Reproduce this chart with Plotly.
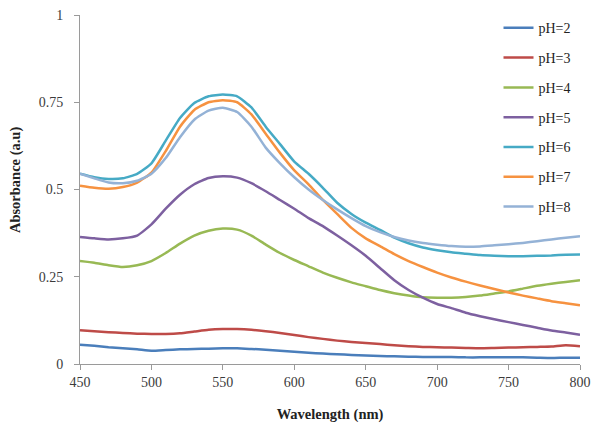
import plotly.graph_objects as go

wavelength = list(range(450, 801, 10))

ph2 = [.055, .052, .048, .045, .042, .038, .040, .042, .043, .044, .045, .045, .043, .041, .038, .035,
       .032, .030, .028, .026, .024, .023, .022, .021, .020, .020, .020, .019, .019, .019, .019, .019,
       .018, .017, .018, .018]
ph3 = [.097, .094, .091, .089, .087, .086, .086, .088, .093, .098, .100, .100, .098, .094, .089, .083,
       .077, .072, .067, .063, .060, .057, .054, .051, .049, .048, .047, .046, .045, .046, .047, .048,
       .049, .050, .054, .051]
ph4 = [.295, .290, .283, .278, .283, .295, .318, .345, .368, .382, .388, .385, .368, .342, .318, .298,
       .280, .262, .247, .234, .223, .212, .203, .196, .191, .190, .190, .192, .196, .202, .208, .216,
       .224, .230, .235, .240]
ph5 = [.364, .360, .357, .360, .368, .400, .445, .485, .515, .533, .538, .534, .518, .495, .470, .445,
       .418, .395, .368, .340, .310, .275, .240, .212, .190, .172, .160, .147, .137, .128, .120, .112,
       .104, .096, .090, .084]
ph6 = [.545, .535, .530, .532, .545, .575, .640, .705, .748, .767, .772, .767, .735, .680, .630, .580,
       .545, .505, .462, .430, .405, .384, .362, .346, .334, .326, .320, .316, .312, .310, .309, .309,
       .310, .311, .313, .314]
ph7 = [.511, .505, .502, .507, .520, .548, .610, .680, .728, .750, .756, .750, .715, .660, .605, .555,
       .515, .470, .430, .390, .360, .338, .315, .295, .278, .262, .248, .236, .225, .215, .205, .196,
       .188, .180, .174, .168]
ph8 = [.545, .532, .520, .518, .525, .545, .590, .650, .700, .726, .734, .722, .680, .620, .575, .535,
       .500, .470, .443, .418, .395, .378, .364, .354, .347, .342, .338, .336, .337, .340, .343, .347,
       .352, .357, .362, .366]

series_names = ["pH=2", "pH=3", "pH=4", "pH=5", "pH=6", "pH=7", "pH=8"]
series_values = [ph2, ph3, ph4, ph5, ph6, ph7, ph8]
colors = ["#4A7EBB", "#BE4B48", "#98B954", "#7D60A0", "#46AAC5", "#F69240", "#94B2D6"]

x_ticks = [450, 500, 550, 600, 650, 700, 750, 800]
y_ticks = [0, 0.25, 0.5, 0.75, 1]
y_ticktext = ["0", "0.25", "0.5", "0.75", "1"]
x_title = "Wavelength (nm)"
y_title = "Absorbance (a.u)"

FONT = "Liberation Serif, Times New Roman, serif"

fig = go.Figure()
for name, vals, c in zip(series_names, series_values, colors):
    fig.add_trace(go.Scatter(x=wavelength, y=vals, name=name, mode="lines",
                             line=dict(color=c, width=2.5, shape="spline", smoothing=0.5),
                             legendgroup=name))

axis_common = dict(showgrid=False, zeroline=False, showline=True, linecolor="#9a9a9a", linewidth=1,
                   ticks="outside", ticklen=5, tickcolor="#9a9a9a", automargin=False,
                   tickfont=dict(family=FONT, size=14, color="#3b3b3b"))

fig.update_layout(
    width=592, height=426,
    margin=dict(l=80, r=12, t=15, b=62, autoexpand=False),
    paper_bgcolor="white", plot_bgcolor="white",
    font=dict(family=FONT, size=14, color="#222"),
    xaxis=dict(range=[450, 800], tickvals=x_ticks,
               title=dict(text="<b>" + x_title + "</b>", font=dict(family=FONT, size=14.5, color="#222"), standoff=20),
               **axis_common),
    yaxis=dict(range=[0, 1], tickvals=y_ticks, ticktext=y_ticktext, ticklabelstandoff=8,
               **axis_common),
    legend=dict(x=0.837, y=1.008, xanchor="left", yanchor="top", tracegroupgap=8.6,
                font=dict(family=FONT, size=14, color="#222"), bgcolor="rgba(0,0,0,0)"),
    annotations=[dict(text="<b>" + y_title + "</b>", textangle=-90, showarrow=False,
                      xref="paper", yref="paper", x=0, y=0.527, xshift=-65,
                      xanchor="center", yanchor="middle",
                      font=dict(family=FONT, size=14.5, color="#222"))],
)

fig.write_html("out.html")
